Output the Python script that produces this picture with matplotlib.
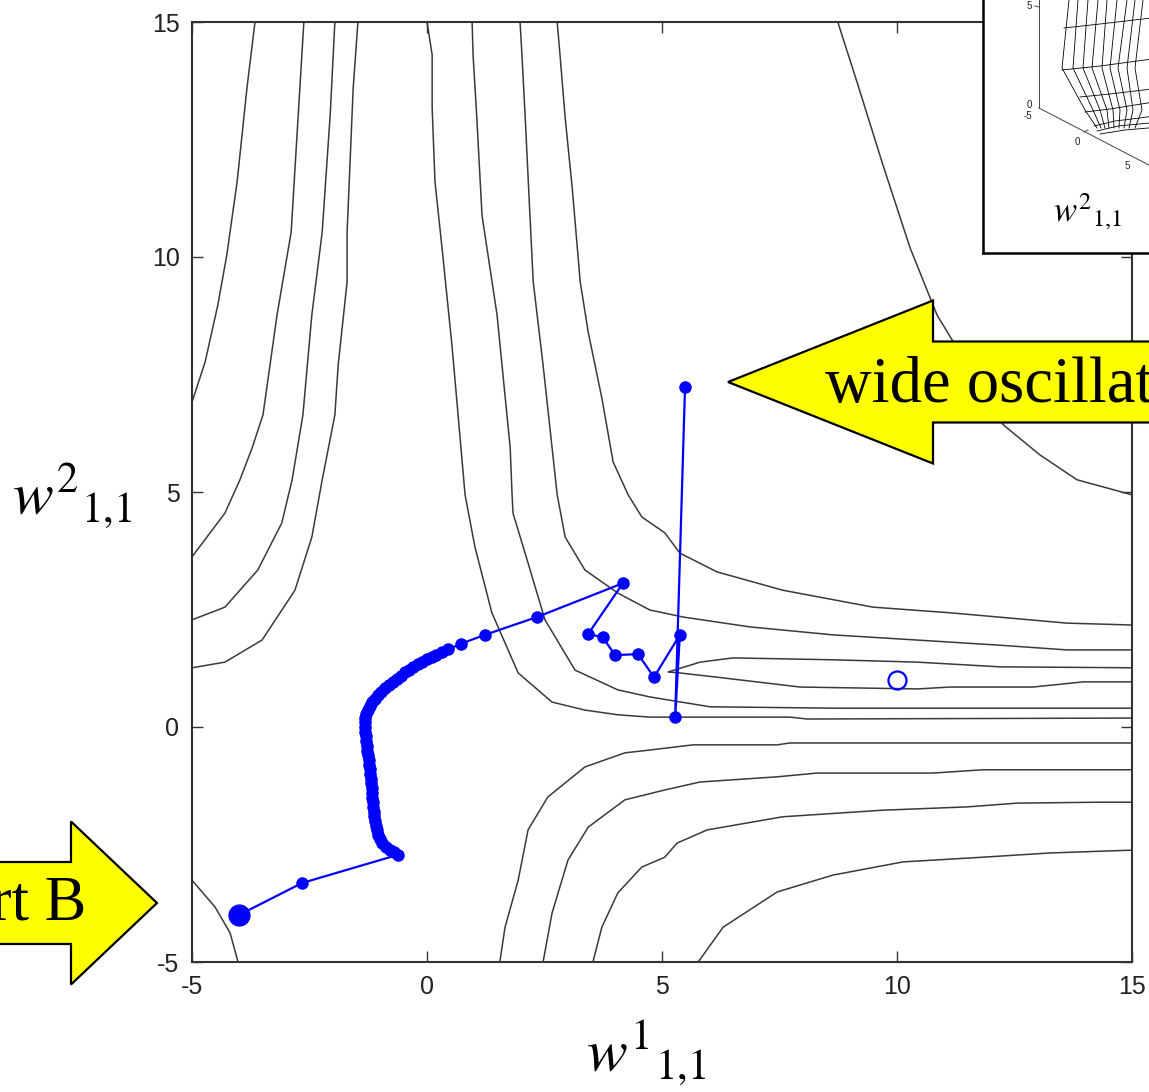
import matplotlib
matplotlib.use("Agg")
import matplotlib.pyplot as plt
from matplotlib import patches, transforms

# contour lines of the error surface (w1_11, w2_11)
line_a_x = [-3.66, -3.83, -4.04, -4.26, -4.45, -4.72, -5.0]
line_a_y = [15.0, 13.6, 11.6, 10.04, 8.98, 7.77, 6.91]
line_b_x = [-2.62, -2.74, -2.89, -3.19, -3.49, -3.72, -3.98, -4.30, -5.0]
line_b_y = [15.0, 13.02, 10.53, 8.77, 6.64, 5.94, 5.26, 4.55, 3.62]
line_c_x = [-1.96, -2.06, -2.23, -2.45, -2.64, -2.87, -3.09, -3.60, -4.30, -5.0]
line_c_y = [15.0, 13.02, 10.53, 8.77, 6.64, 5.26, 4.34, 3.34, 2.55, 2.28]
line_d_x = [-1.47, -1.57, -1.70, -1.70, -1.89, -1.96, -2.23, -2.45, -2.81, -3.51, -4.30, -5.0]
line_d_y = [15.0, 13.60, 10.53, 9.47, 7.70, 6.64, 5.26, 4.04, 2.91, 1.85, 1.38, 1.26]
line_e_x = [0.0, 0.11, 0.11, 0.17, 0.32, 0.53, 0.60, 0.81, 1.02, 1.38, 1.94, 2.66, 3.36,
            4.06, 4.74, 7.72, 8.09, 15.0]
line_e_y = [15.0, 14.30, 13.17, 11.60, 10.19, 8.13, 7.34, 4.94, 3.83, 2.43, 1.15, 0.53, 0.36,
            0.26, 0.21, 0.21, 0.17, 0.19]
line_f_x = [0.96, 0.98, 1.06, 1.17, 1.49, 1.77, 1.81, 1.83, 2.15, 2.51, 3.15, 4.06, 4.74,
            6.02, 8.72, 15.0]
line_f_y = [15.0, 14.30, 12.96, 10.89, 8.77, 5.94, 4.94, 4.55, 3.49, 2.28, 1.21, 0.79, 0.64,
            0.43, 0.40, 0.40]
line_g_x = [1.98, 2.02, 2.09, 2.19, 2.26, 2.47, 2.77, 2.94, 3.36, 4.06, 4.74, 5.45, 6.87,
            8.64, 10.43, 12.19, 13.62, 15.0]
line_g_y = [15.0, 14.30, 12.96, 10.89, 9.47, 7.70, 4.94, 4.04, 3.34, 2.85, 2.49, 2.34, 2.13,
            1.96, 1.85, 1.74, 1.64, 1.64]
line_h_x = [2.77, 2.83, 2.94, 3.09, 3.26, 3.43, 3.72, 3.96, 4.28, 4.57, 5.06, 5.38, 6.17,
            7.57, 9.49, 11.13, 13.62, 15.0]
line_h_y = [15.0, 14.30, 12.96, 11.47, 9.47, 8.40, 7.00, 5.64, 4.94, 4.47, 4.13, 3.70, 3.30,
            2.91, 2.55, 2.43, 2.21, 2.17]
line_i_x = [8.74, 9.15, 9.70, 10.28, 10.85, 12.26, 13.04, 13.83, 15.0]
line_i_y = [15.0, 13.72, 11.96, 10.19, 8.77, 6.43, 5.79, 5.26, 4.94]
line_j_x = [15.0, 12.19, 10.43, 8.64, 6.51, 5.81, 5.13, 5.38, 6.17, 7.94, 10.43, 11.13,
            12.89, 13.96, 15.0]
line_j_y = [1.26, 1.28, 1.38, 1.43, 1.47, 1.38, 1.17, 1.15, 1.06, 0.85, 0.81, 0.85,
            0.85, 0.96, 0.96]
line_k1_x = [1.55, 1.66, 1.94, 2.15, 2.57, 3.36, 4.21, 4.74, 5.66, 7.45, 7.72, 15.0]
line_k1_y = [-5.0, -4.26, -3.26, -2.19, -1.49, -0.85, -0.55, -0.49, -0.38, -0.38, -0.34, -0.34]
line_k2_x = [2.47, 2.66, 3.0, 3.43, 4.21, 5.06, 5.81, 7.45, 8.30, 10.77, 11.83, 15.0]
line_k2_y = [-5.0, -3.96, -2.83, -2.13, -1.55, -1.34, -1.17, -1.06, -0.98, -0.98, -0.91, -0.91]
line_k3_x = [3.53, 3.72, 4.06, 4.57, 5.06, 5.32, 5.96, 7.57, 9.70, 11.49, 12.55, 14.32, 15.0]
line_k3_y = [-5.0, -4.26, -3.53, -2.98, -2.77, -2.47, -2.19, -1.91, -1.77, -1.70, -1.62,
             -1.60, -1.60]
line_k4_x = [5.77, 6.30, 7.45, 8.64, 10.13, 11.83, 13.26, 15.0]
line_k4_y = [-5.0, -4.26, -3.51, -3.15, -2.87, -2.77, -2.68, -2.62]
line_m_x = [-5.0, -4.51, -4.19, -4.02]
line_m_y = [-3.26, -3.83, -4.38, -5.0]

contour_lines = [
    (line_a_x, line_a_y), (line_b_x, line_b_y), (line_c_x, line_c_y), (line_d_x, line_d_y),
    (line_e_x, line_e_y), (line_f_x, line_f_y), (line_g_x, line_g_y), (line_h_x, line_h_y),
    (line_i_x, line_i_y), (line_j_x, line_j_y), (line_k1_x, line_k1_y),
    (line_k2_x, line_k2_y), (line_k3_x, line_k3_y), (line_k4_x, line_k4_y),
    (line_m_x, line_m_y),
]

# steepest descent trajectory (start B)
traj_x = [-4.0, -2.66, -0.62, -0.70, -0.79, -0.87, -0.95, -1.01, -1.05, -1.07, -1.09,
          -1.10, -1.12, -1.13, -1.14, -1.15, -1.16, -1.17, -1.18, -1.19, -1.20, -1.21,
          -1.22, -1.23, -1.24, -1.26, -1.27, -1.28, -1.29, -1.30, -1.31, -1.32, -1.32,
          -1.31, -1.29, -1.26, -1.22, -1.17, -1.11, -1.04, -0.97, -0.89, -0.81, -0.73,
          -0.64, -0.56, -0.47, -0.38, -0.29, -0.20, -0.10, 0.00, 0.10, 0.20, 0.31, 0.45,
          0.72, 1.23, 2.34, 4.17, 3.43, 3.74, 4.00, 4.49, 4.83, 5.38, 5.28, 5.49]
traj_y = [-4.0, -3.32, -2.72, -2.67, -2.61, -2.55, -2.47, -2.39, -2.30, -2.20, -2.10,
          -2.00, -1.90, -1.80, -1.70, -1.60, -1.50, -1.40, -1.30, -1.20, -1.10, -1.00,
          -0.90, -0.80, -0.70, -0.60, -0.50, -0.40, -0.30, -0.20, -0.10, 0.00, 0.10,
          0.19, 0.28, 0.37, 0.45, 0.53, 0.60, 0.68, 0.75, 0.82, 0.89, 0.96,
          1.03, 1.09, 1.16, 1.22, 1.28, 1.33, 1.39, 1.44, 1.49, 1.54, 1.59, 1.65,
          1.77, 1.96, 2.34, 3.06, 1.98, 1.91, 1.53, 1.55, 1.06, 1.96, 0.21, 7.23]
minimum_x = [10.0]
minimum_y = [1.0]

ticks = [-5, 0, 5, 10, 15]

# inset wireframe (pixel positions of the cut-off 3D surface)
wire_y = [-20, 0, 68, 110, 128]
wire_x = [
    [1071, 1069, 1062, 1085, 1097],
    [1081, 1078, 1073, 1093, 1101],
    [1091, 1088, 1083, 1100, 1105],
    [1101, 1098, 1092, 1107, 1109],
    [1110, 1107, 1102, 1113, 1114],
    [1120, 1117, 1110, 1120, 1119],
    [1130, 1127, 1118, 1127, 1124],
    [1139, 1135, 1127, 1133, 1129],
    [1147, 1143, 1135, 1142, 1135],
]
wire_h = [
    ([1064, 1100, 1160], [28, 24, 17]),
    ([1062, 1100, 1160], [70, 66, 58]),
    ([1080, 1110, 1160], [97, 94, 88]),
    ([1085, 1110, 1160], [112, 109, 101]),
    ([1094, 1115, 1140, 1160], [126, 121, 118, 115]),
    ([1097, 1118, 1160], [131, 126, 122]),
    ([1100, 1125, 1160], [134, 130, 127]),
]

W, H = 1149, 1092
plt.rcParams['mathtext.fontset'] = 'stix'
plt.rcParams['axes.unicode_minus'] = False


def px_transform(fig):
    """Figure transform that takes pixel positions measured from the top-left."""
    return transforms.Affine2D().scale(1 / W, -1 / H).translate(0, 1) + fig.transFigure


def draw_main(fig):
    """Contour map with the descent trajectory."""
    ax = fig.add_axes([192 / W, 130 / H, 940 / W, 940 / H])
    for xs, ys in contour_lines:
        ax.plot(xs, ys, color="#3a3a3a", lw=1.1, zorder=1)
    ax.plot(traj_x, traj_y, color="#0000ff", lw=1.6, marker="o", ms=8,
            mec="#0000ff", mfc="#0000ff", zorder=3)
    ax.plot(traj_x[:1], traj_y[:1], "o", color="#0000ff", ms=15, zorder=4)
    ax.plot(minimum_x, minimum_y, "o", mfc="none", mec="#0000ff", mew=1.6, ms=13, zorder=4)
    ax.set_xlim(-5, 15)
    ax.set_ylim(-5, 15)
    ax.set_xticks(ticks)
    ax.set_yticks(ticks)
    ax.tick_params(direction="in", length=8, width=1, top=True, right=True,
                   labelsize=18, pad=9, labelcolor="#222222", color="#333333")
    for lab in ax.get_xticklabels() + ax.get_yticklabels():
        lab.set_family("Liberation Sans")
    for sp in ax.spines.values():
        sp.set_linewidth(1.5)
        sp.set_color("#333333")
    return ax


def draw_inset(fig):
    """Corner of the 3D error surface that shows in the top right."""
    ins = fig.add_axes([983 / W, (H - 253) / H, 320 / W, 320 / H], zorder=3)
    ins.set_xlim(983, 1303)
    ins.set_ylim(253, -67)
    ins.set_xticks([])
    ins.set_yticks([])
    for sp in ins.spines.values():
        sp.set_linewidth(1.8)
        sp.set_color("black")
    ins.plot([1039, 1039], [-30, 108], color="#444444", lw=0.7)
    ins.plot([1039, 1170], [108, 176], color="#444444", lw=0.7)
    ins.plot([1035, 1039], [6, 7], color="#444444", lw=0.7)
    ins.plot([1084, 1088], [132, 130], color="#444444", lw=0.7)
    for row in wire_x:
        ins.plot(row, wire_y, color="black", lw=0.6)
    for xs, ys in wire_h:
        ins.plot(xs, ys, color="black", lw=0.6)
    small = dict(fontsize=7, family="Liberation Sans", color="#222222")
    ins.text(1032, 6, "5", ha="right", va="center", **small)
    ins.text(1032, 105, "0", ha="right", va="center", **small)
    ins.text(1032, 116, "-5", ha="right", va="center", **small)
    ins.text(1077, 142, "0", ha="center", va="center", **small)
    ins.text(1127, 166, "5", ha="center", va="center", **small)
    ins.text(1088, 222, r"$w^{2}{}_{1{,}1}$", ha="center", va="baseline", fontsize=25)


def draw_callouts(fig):
    """Yellow arrows with their captions."""
    T = px_transform(fig)
    right = patches.FancyArrow(1400, 382, -672, 0, width=81, head_width=163,
                               head_length=205, length_includes_head=True,
                               fc="#ffff00", ec="black", lw=1.6, transform=T, zorder=5)
    left = patches.FancyArrow(-300, 903, 457, 0, width=82, head_width=163,
                              head_length=86, length_includes_head=True,
                              fc="#ffff00", ec="black", lw=1.6, transform=T, zorder=5)
    fig.add_artist(right)
    fig.add_artist(left)
    fig.text(825, 402, "wide oscillation", transform=T, ha="left", va="baseline",
             fontsize=46.5, family="Liberation Serif", zorder=6)
    fig.text(86, 920, "Start B", transform=T, ha="right", va="baseline",
             fontsize=45, family="Liberation Serif", zorder=6)


fig = plt.figure(figsize=(W / 100, H / 100), dpi=100)
draw_main(fig)
draw_inset(fig)
draw_callouts(fig)

T = px_transform(fig)
fig.text(646, 1072, r"$w^{1}{}_{1{,}1}$", transform=T, ha="center", va="baseline", fontsize=44)
fig.text(72, 515, r"$w^{2}{}_{1{,}1}$", transform=T, ha="center", va="baseline", fontsize=44)

fig.savefig("out.png", dpi=100)
